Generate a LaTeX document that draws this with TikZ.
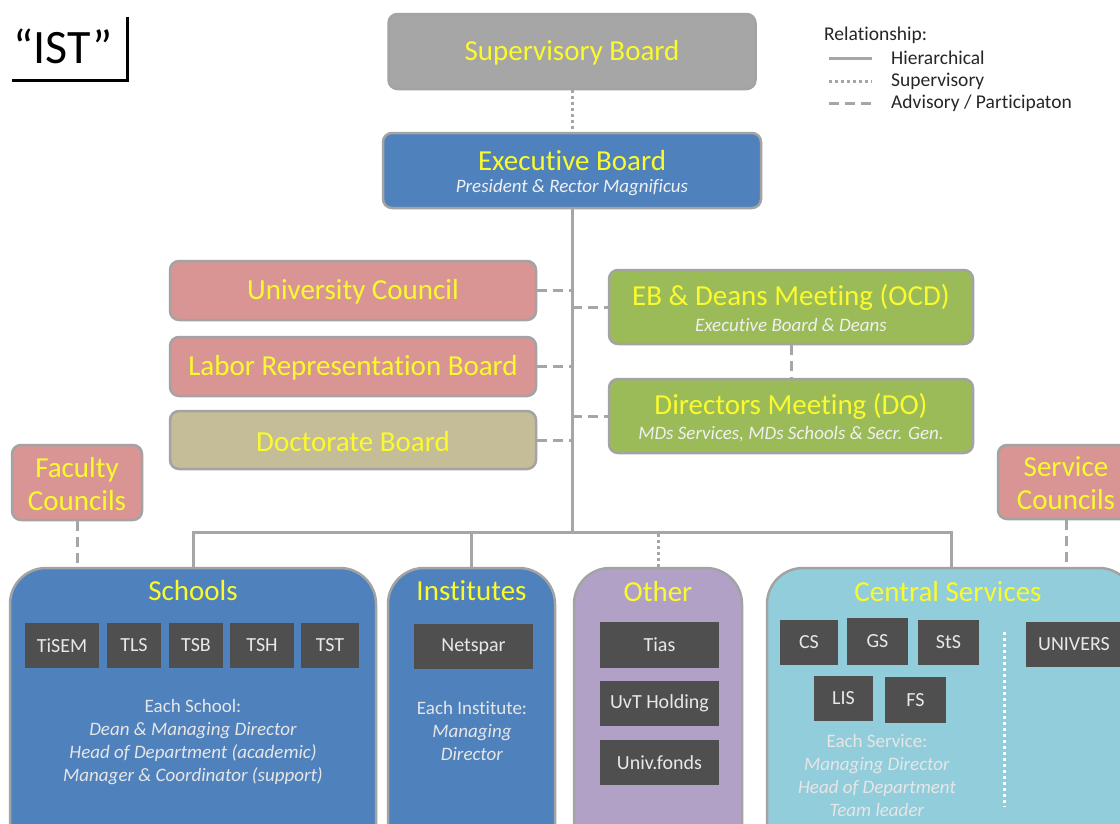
\documentclass[tikz,border=0pt]{standalone}
\usepackage{fontspec}
\setmainfont{Carlito}[Ligatures=NoCommon]
\definecolor{supgray}{HTML}{A6A6A6}
\definecolor{ebblue}{HTML}{4F81BD}
\definecolor{councilpink}{HTML}{D99594}
\definecolor{doctan}{HTML}{C4BD97}
\definecolor{meetgreen}{HTML}{9BBB59}
\definecolor{otherpurple}{HTML}{B2A1C7}
\definecolor{servblue}{HTML}{92CDDC}
\definecolor{darkbox}{HTML}{4F4F4F}
\definecolor{ttlyellow}{HTML}{FAFA2E}
\definecolor{subwhite}{HTML}{F0F0F0}
\definecolor{unittext}{HTML}{E8E8E8}
\definecolor{desctext}{HTML}{E6E6E6}
\definecolor{linegray}{HTML}{A6A6A6}
\definecolor{bordergray}{HTML}{A3A3A3}
\tikzset{
  card/.style={draw=bordergray, line width=2.5pt, rounded corners=9pt, inner sep=0pt},
  group/.style={draw=bordergray, line width=2.5pt, rounded corners=36pt, inner sep=0pt},
  ttl/.style={text=ttlyellow, font=\fontsize{29}{33}\selectfont, align=center, inner sep=0pt},
  subttl/.style={text=subwhite, font=\fontsize{19}{21}\selectfont\itshape, inner sep=0pt},
  unitbox/.style={fill=darkbox, text=unittext, font=\fontsize{20}{22}\selectfont, inner sep=0pt},
  desc/.style={text=desctext, font=\fontsize{19}{23}\selectfont, align=center, inner sep=0pt},
  legtext/.style={font=\fontsize{19.5}{22}\selectfont, anchor=west, inner sep=0pt, text=black!85},
  hier/.style={draw=linegray, line width=3pt},
  superv/.style={draw=linegray, line width=3pt, dash pattern=on 3pt off 3pt},
  advis/.style={draw=linegray, line width=3pt, dash pattern=on 10pt off 6pt},
}
\begin{document}
\begin{tikzpicture}[x=1pt,y=-1pt]
\useasboundingbox (0,0) rectangle (1120,823);
\clip (0,0) rectangle (1120,823);

% IST label
\node[font=\fontsize{48}{50}\selectfont, anchor=base, inner sep=0pt] (ist) at (63,63) {“IST”};
\coordinate (istbl) at (12,80);
\coordinate (istbr) at (127,80);
\coordinate (isttr) at (127,17);
\draw[line width=3pt, black] (istbl) -- (istbr) -- (isttr);

% Legend
\node[legtext] (legtitle) at (824,35) {Relationship:};
\coordinate (l1a) at (829,58); \coordinate (l1b) at (872,58);
\coordinate (l2a) at (829,81); \coordinate (l2b) at (872,81);
\coordinate (l3a) at (829,103); \coordinate (l3b) at (872,103);
\draw[hier] (l1a) -- (l1b);
\draw[superv] (l2a) -- (l2b);
\draw[advis] (l3a) -- (l3b);
\node[legtext] (leg1) at (891,58) {Hierarchical};
\node[legtext] (leg2) at (891,81) {Supervisory};
\node[legtext] (leg3) at (891,103) {Advisory / Participaton};

% Top boards
\node[card, fill=supgray, minimum width=367pt, minimum height=75pt] (sup) at (572,51.5) {};
\node[ttl] (suptxt) at (572,53) {Supervisory Board};
\node[card, fill=ebblue, minimum width=378pt, minimum height=75pt] (eb) at (572,170.5) {};
\node[ttl] (ebtxt) at (572,161) {Executive Board};
\node[subttl] (ebsub) at (572,188) {President \& Rector Magnificus};

% Left councils
\node[card, fill=councilpink, minimum width=366pt, minimum height=59pt] (uc) at (353,290.5) {};
\node[ttl] (uctxt) at (353,292) {University Council};
\node[card, fill=councilpink, minimum width=366pt, minimum height=59pt] (lrb) at (353,366.5) {};
\node[ttl] (lrbtxt) at (353,368) {Labor Representation Board};
\node[card, fill=doctan, minimum width=366pt, minimum height=58pt] (db) at (353,440) {};
\node[ttl] (dbtxt) at (353,441.5) {Doctorate Board};

% Meetings
\node[card, fill=meetgreen, minimum width=364pt, minimum height=74pt] (ocd) at (791,307) {};
\node[ttl] (ocdtxt) at (791,297) {EB \& Deans Meeting (OCD)};
\node[subttl] (ocdsub) at (791,325) {Executive Board \& Deans};
\node[card, fill=meetgreen, minimum width=364pt, minimum height=74pt] (do) at (791,416) {};
\node[ttl] (dotxt) at (791,406) {Directors Meeting (DO)};
\node[subttl] (dosub) at (791,434) {MDs Services, MDs Schools \& Secr. Gen.};

% Side councils
\node[card, fill=councilpink, minimum width=130pt, minimum height=75pt] (fc) at (77,482.5) {};
\node[ttl] (fctxt) at (77,484) {Faculty\\Councils};
\node[card, fill=councilpink, minimum width=136pt, minimum height=74pt] (sc) at (1066,482) {};
\node[ttl] (sctxt) at (1066,483.5) {Service\\Councils};

% Bottom groups
\node[group, fill=ebblue, minimum width=366pt, minimum height=292pt] (schools) at (193,714) {};
\node[group, fill=ebblue, minimum width=167pt, minimum height=292pt] (inst) at (471.5,714) {};
\node[group, fill=otherpurple, minimum width=168pt, minimum height=292pt] (other) at (658,714) {};
\node[group, fill=servblue, minimum width=368pt, minimum height=292pt] (cs) at (951,714) {};
\node[ttl] (schoolstxt) at (193,591) {Schools};
\node[ttl] (insttxt) at (471.5,591) {Institutes};
\node[ttl] (othertxt) at (658,592) {Other};
\node[ttl] (cstxt) at (948,592) {Central Services};

% Units
\node[unitbox, minimum width=74pt, minimum height=45pt] (tisem) at (62,645.5) {TiSEM};
\node[unitbox, minimum width=54pt, minimum height=45pt] (tls) at (134,645.5) {TLS};
\node[unitbox, minimum width=54pt, minimum height=45pt] (tsb) at (196,645.5) {TSB};
\node[unitbox, minimum width=64pt, minimum height=45pt] (tsh) at (262,645.5) {TSH};
\node[unitbox, minimum width=58pt, minimum height=45pt] (tst) at (330,645.5) {TST};
\node[unitbox, minimum width=119pt, minimum height=45pt] (netspar) at (473.5,646.5) {Netspar};
\node[unitbox, minimum width=119pt, minimum height=46pt] (tias) at (659.5,645) {Tias};
\node[unitbox, minimum width=119pt, minimum height=45pt] (uvt) at (659.5,703.5) {UvT Holding};
\node[unitbox, minimum width=119pt, minimum height=45pt] (univ) at (659.5,762.5) {Univ.fonds};
\node[unitbox, minimum width=58pt, minimum height=45pt] (csu) at (809,642.5) {CS};
\node[unitbox, minimum width=61pt, minimum height=47pt] (gs) at (877.5,641.5) {GS};
\node[unitbox, minimum width=61pt, minimum height=45pt] (sts) at (948.5,642.5) {StS};
\node[unitbox, minimum width=59pt, minimum height=45pt] (lis) at (843.5,698.5) {LIS};
\node[unitbox, minimum width=61pt, minimum height=46pt] (fs) at (915.5,700) {FS};
\node[unitbox, minimum width=96pt, minimum height=45pt] (univers) at (1074,644.5) {UNIVERS};

% Descriptions
\node[desc] (schooldesc) at (193,742) {Each School:\\\textit{Dean \& Managing Director}\\\textit{Head of Department (academic)}\\\textit{Manager \& Coordinator (support)}};
\node[desc] (instdesc) at (472,731) {Each Institute:\\\textit{Managing}\\\textit{Director}};
\node[desc] (csdesc) at (877,775) {Each Service:\\\textit{Managing Director}\\\textit{Head of Department}\\\textit{Team leader}};
\coordinate (dsep1) at (1004,632);
\coordinate (dsep2) at (1004,807);
\draw[white, line width=3pt, dash pattern=on 3pt off 3pt] (dsep1) -- (dsep2);

% Connectors
\coordinate (bus) at (572,532);
\draw[superv] (sup.south) -- (eb.north);
\draw[hier] (eb.south) -- (bus);
\draw[hier] (schools.north) |- (bus) -| (cs.north);
\draw[hier] (inst.north) -- (inst.north |- bus);
\draw[superv] (other.north) -- (other.north |- bus);
\draw[advis] (uc.east) -- (uc.east -| bus);
\draw[advis] (lrb.east) -- (lrb.east -| bus);
\draw[advis] (db.east) -- (db.east -| bus);
\draw[advis] (ocd.west -| bus) -- (ocd.west);
\draw[advis] (do.west -| bus) -- (do.west);
\draw[advis] (ocd.south) -- (do.north);
\draw[advis] (fc.south) -- (fc.south |- schools.north);
\draw[advis] (sc.south) -- (sc.south |- cs.north);
\end{tikzpicture}
\end{document}
